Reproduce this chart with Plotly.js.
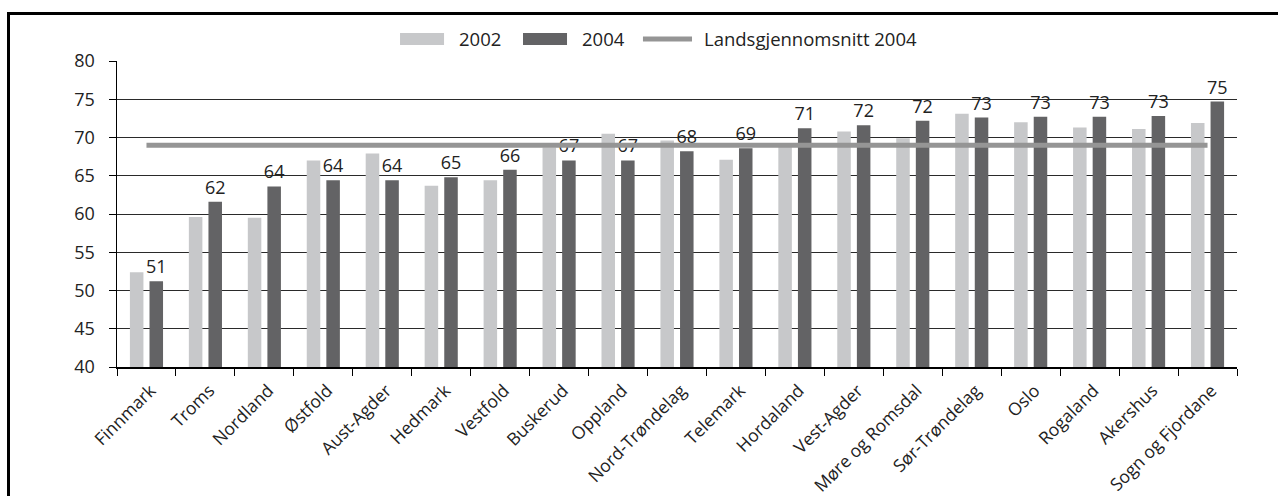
<!DOCTYPE html>
<html>
<head>
<meta charset="utf-8">
<script src="https://cdn.plot.ly/plotly-3.0.1.min.js"></script>
<style>
html, body { margin:0; padding:0; background:#fff; overflow:hidden; }
#chart { width:1278px; height:496px; position:absolute; left:0; top:0; }
#frame { position:absolute; left:7px; top:12px; width:2000px; height:2000px;
  border-left:3px solid #000; border-top:3px solid #000; pointer-events:none; }
</style>
</head>
<body>
<div id="chart"></div>
<div id="frame"></div>
<script>
const categories = ["Finnmark","Troms","Nordland","Østfold","Aust-Agder","Hedmark","Vestfold","Buskerud","Oppland","Nord-Trøndelag","Telemark","Hordaland","Vest-Agder","Møre og Romsdal","Sør-Trøndelag","Oslo","Rogaland","Akershus","Sogn og Fjordane"];
const values2002 = [52.4,59.6,59.5,67.0,67.9,63.7,64.4,68.7,70.5,69.6,67.1,69.0,70.8,69.9,73.1,72.0,71.3,71.1,71.9];
const values2004 = [51.2,61.6,63.6,64.4,64.4,64.8,65.8,67.0,67.0,68.2,68.6,71.2,71.6,72.2,72.6,72.7,72.7,72.8,74.7];
const avg2004 = [69,69,69,69,69,69,69,69,69,69,69,69,69,69,69,69,69,69,69];
const seriesNames = ["2002","2004","Landsgjennomsnitt 2004"];
const yTicks = [40,45,50,55,60,65,70,75,80];

const cLight = "#c7c8ca", cDark = "#636365", cLine = "#959595";
const FONT = "Open Sans, DejaVu Sans, sans-serif";

const traces = [
  { type:"bar", name:seriesNames[0], x:categories, y:values2002,
    marker:{color:cLight}, hoverinfo:"skip", showlegend:false },
  { type:"bar", name:seriesNames[1], x:categories, y:values2004,
    marker:{color:cDark}, texttemplate:"%{y:.0f}", textposition:"outside",
    constraintext:"none",
    textfont:{size:18, color:"#222", family:FONT}, cliponaxis:false,
    hoverinfo:"skip", showlegend:false },
  { type:"scatter", mode:"lines", name:seriesNames[2], x:categories, y:avg2004,
    line:{color:cLine, width:5}, hoverinfo:"skip", showlegend:false }
];

// custom legend (paper coords)
const L = {y0:1.0523, y1:1.0915, yc:1.0719};
const shapes = [
  {type:"rect", xref:"paper", yref:"paper", x0:0.2527, x1:0.2920, y0:L.y0, y1:L.y1, fillcolor:cLight, line:{width:0}},
  {type:"rect", xref:"paper", yref:"paper", x0:0.3625, x1:0.4018, y0:L.y0, y1:L.y1, fillcolor:cDark, line:{width:0}},
  {type:"line", xref:"paper", yref:"paper", x0:0.4696, x1:0.5134, y0:L.yc, y1:L.yc, line:{color:cLine, width:5}}
];
const annotations = [
  {xref:"paper", yref:"paper", x:0.3036, y:L.yc, text:seriesNames[0], showarrow:false, xanchor:"left", yanchor:"middle", font:{size:18.5, color:"#222", family:FONT}},
  {xref:"paper", yref:"paper", x:0.4134, y:L.yc, text:seriesNames[1], showarrow:false, xanchor:"left", yanchor:"middle", font:{size:18.5, color:"#222", family:FONT}},
  {xref:"paper", yref:"paper", x:0.5223, y:L.yc, text:seriesNames[2], showarrow:false, xanchor:"left", yanchor:"middle", font:{size:18.5, color:"#222", family:FONT}}
];

const layout = {
  width:1278, height:496,
  margin:{l:117, r:41, t:61, b:129, pad:0},
  paper_bgcolor:"#fff", plot_bgcolor:"#fff",
  font:{family:FONT, size:18, color:"#222"},
  barmode:"group", bargap:0.335, bargroupgap:0.31,
  showlegend:false,
  xaxis:{type:"category", tickson:"boundaries", ticks:"outside", ticklen:7, tickcolor:"#000",
    showline:true, linecolor:"#000", linewidth:1.5, tickangle:-45, showgrid:false,
    ticklabelstandoff:5, ticklabelshift:4,
    tickfont:{size:17.5, color:"#222", family:FONT}, fixedrange:true},
  yaxis:{range:[40,80], tickvals:yTicks, ticks:"outside", ticklen:7, tickcolor:"#000",
    showline:true, linecolor:"#000", linewidth:1.5, showgrid:true, gridcolor:"#2a2a2a", gridwidth:1,
    zeroline:false, ticklabelstandoff:10, tickfont:{size:18, color:"#222", family:FONT}, fixedrange:true},
  shapes:shapes, annotations:annotations
};

Plotly.newPlot("chart", traces, layout, {displayModeBar:false, staticPlot:true});
</script>
</body>
</html>
